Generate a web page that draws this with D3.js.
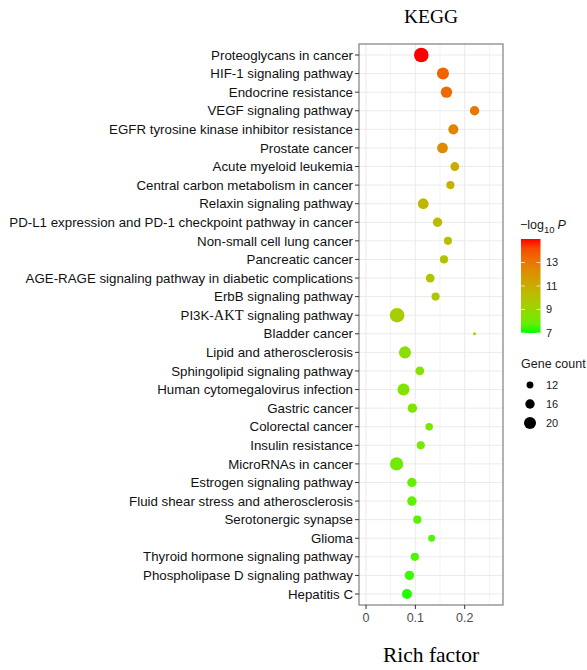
<!DOCTYPE html>
<html>
<head>
<meta charset="utf-8">
<script src="https://cdn.jsdelivr.net/npm/d3@7"></script>
<style>
  body { margin: 0; background: #fff; }
  text { font-family: "Liberation Sans", Arial, sans-serif; }
</style>
</head>
<body>
<svg id="svg" width="587" height="670"></svg>
<script>
const pathways = [
  "Proteoglycans in cancer", "HIF-1 signaling pathway", "Endocrine resistance",
  "VEGF signaling pathway", "EGFR tyrosine kinase inhibitor resistance", "Prostate cancer",
  "Acute myeloid leukemia", "Central carbon metabolism in cancer", "Relaxin signaling pathway",
  "PD-L1 expression and PD-1 checkpoint pathway in cancer", "Non-small cell lung cancer",
  "Pancreatic cancer", "AGE-RAGE signaling pathway in diabetic complications",
  "ErbB signaling pathway", "PI3K-AKT signaling pathway", "Bladder cancer",
  "Lipid and atherosclerosis", "Sphingolipid signaling pathway",
  "Human cytomegalovirus infection", "Gastric cancer", "Colorectal cancer",
  "Insulin resistance", "MicroRNAs in cancer", "Estrogen signaling pathway",
  "Fluid shear stress and atherosclerosis", "Serotonergic synapse", "Glioma",
  "Thyroid hormone signaling pathway", "Phospholipase D signaling pathway", "Hepatitis C"
];
const richFactor = [
  0.112, 0.156, 0.163, 0.220, 0.177, 0.155, 0.180, 0.171, 0.116, 0.145,
  0.166, 0.158, 0.130, 0.141, 0.063, 0.220, 0.079, 0.109, 0.076, 0.094,
  0.128, 0.111, 0.062, 0.093, 0.093, 0.104, 0.133, 0.099, 0.088, 0.083
];
const geneCount = [
  24, 20, 19, 16, 17, 18, 15, 14, 18, 16,
  14, 14, 15, 14, 24, 6, 20, 15, 20, 16,
  13, 14, 22, 16, 16, 14, 12, 14, 16, 17
];
const negLogP = [
  15.0, 13.6, 13.4, 13.0, 12.6, 12.3, 11.0, 10.8, 10.5, 10.3,
  10.2, 10.0, 9.9, 9.8, 9.5, 9.2, 8.6, 8.5, 8.4, 8.3,
  8.2, 8.1, 8.0, 7.8, 7.7, 7.6, 7.5, 7.4, 7.3, 7.1
];
const xTicks = [0, 0.1, 0.2];
const xMinor = [0.05, 0.15, 0.25];
const colorTicks = [7, 9, 11, 13];
const sizeTicks = [12, 16, 20];

const svg = d3.select("#svg");
const panel = { left: 359, right: 503, top: 44, bottom: 605 };

const x = d3.scaleLinear().domain([0, 0.2]).range([366, 464.7]);
const y = d3.scalePoint().domain(pathways).range([55, 594]);
const r = d3.scaleLinear().domain([6, 24]).range([1.5, 7.3]);
const color = d3.scaleLinear().domain([7, 15]).range(["#00ff00", "#ff0000"])
  .interpolate(d3.interpolateLab);

// grid
const g = svg.append("g");
g.selectAll(".gx").data(xMinor.concat(xTicks)).join("line")
  .attr("x1", d => x(d)).attr("x2", d => x(d))
  .attr("y1", panel.top).attr("y2", panel.bottom)
  .style("stroke", "#ebebeb")
  .style("stroke-width", d => xTicks.includes(d) ? 1 : 0.6);
g.selectAll(".gy").data(pathways).join("line")
  .attr("x1", panel.left).attr("x2", panel.right)
  .attr("y1", d => y(d)).attr("y2", d => y(d))
  .style("stroke", "#ebebeb");

// points
const data = pathways.map((p, i) => ({ p, rf: richFactor[i], n: geneCount[i], v: negLogP[i] }));
g.selectAll("circle").data(data).join("circle")
  .attr("cx", d => x(d.rf))
  .attr("cy", d => y(d.p))
  .attr("r", d => r(d.n))
  .style("fill", d => color(d.v));

// panel border
svg.append("rect")
  .attr("x", panel.left).attr("y", panel.top)
  .attr("width", panel.right - panel.left).attr("height", panel.bottom - panel.top)
  .style("fill", "none").style("stroke", "#7f7f7f").style("stroke-width", 1.2);

// y axis labels
const yl = svg.append("g");
yl.selectAll("line").data(pathways).join("line")
  .attr("x1", panel.left - 4).attr("x2", panel.left)
  .attr("y1", d => y(d)).attr("y2", d => y(d))
  .style("stroke", "#333");
const ylab = yl.selectAll("text").data(pathways).join("text")
  .attr("x", panel.left - 6)
  .attr("y", d => y(d))
  .attr("dy", "0.35em")
  .attr("text-anchor", "end")
  .style("font-size", "13.3px")
  .style("fill", "#111");
ylab.each(function (d) {
  const t = d3.select(this);
  if (d.startsWith("PI3K-AKT")) {
    t.append("tspan").text("PI3K-");
    t.append("tspan").style("font-family", "'Liberation Serif', 'Times New Roman', serif")
      .style("font-size", "14.5px").text("AKT");
    t.append("tspan").text(" signaling pathway");
  } else {
    t.text(d);
  }
});

// x axis
const xa = svg.append("g");
xa.selectAll("line").data(xTicks).join("line")
  .attr("x1", d => x(d)).attr("x2", d => x(d))
  .attr("y1", panel.bottom).attr("y2", panel.bottom + 4)
  .style("stroke", "#333");
xa.selectAll("text").data(xTicks).join("text")
  .attr("x", d => x(d)).attr("y", panel.bottom + 17)
  .attr("text-anchor", "middle")
  .style("font-size", "12.5px").style("fill", "#4d4d4d")
  .text(d => d3.format("~g")(d));

// titles
svg.append("text").attr("x", 431).attr("y", 23).attr("text-anchor", "middle")
  .style("font-family", "'Liberation Serif', 'Times New Roman', serif")
  .style("font-size", "19.5px").text("KEGG");
svg.append("text").attr("x", 431).attr("y", 662).attr("text-anchor", "middle")
  .style("font-family", "'Liberation Serif', 'Times New Roman', serif")
  .style("font-size", "21.5px").text("Rich factor");

// colour legend
const cb = { x: 521, w: 19.5, top: 239, bottom: 333 };
const cy = d3.scaleLinear().domain([7, 15]).range([cb.bottom, cb.top]);
const defs = svg.append("defs");
const grad = defs.append("linearGradient").attr("id", "cgrad")
  .attr("x1", 0).attr("y1", 1).attr("x2", 0).attr("y2", 0);
grad.selectAll("stop").data(d3.range(0, 1.0001, 0.1)).join("stop")
  .attr("offset", d => d)
  .attr("stop-color", d => color(7 + d * 8));
svg.append("rect").attr("x", cb.x).attr("y", cb.top)
  .attr("width", cb.w).attr("height", cb.bottom - cb.top)
  .style("fill", "url(#cgrad)");
const lg = svg.append("g");
lg.selectAll("line.l").data(colorTicks).join("line")
  .attr("x1", cb.x).attr("x2", cb.x + 4)
  .attr("y1", d => cy(d)).attr("y2", d => cy(d))
  .style("stroke", "#fff").style("stroke-opacity", 0.7);
lg.selectAll("line.r").data(colorTicks).join("line")
  .attr("x1", cb.x + cb.w - 4).attr("x2", cb.x + cb.w)
  .attr("y1", d => cy(d)).attr("y2", d => cy(d))
  .style("stroke", "#fff").style("stroke-opacity", 0.7);
lg.selectAll("text").data(colorTicks).join("text")
  .attr("x", 546).attr("y", d => cy(d)).attr("dy", "0.35em")
  .style("font-size", "11px").style("fill", "#1a1a1a")
  .text(d => d);

const lt = svg.append("text").attr("x", 520).attr("y", 229)
  .style("font-size", "12.5px").style("fill", "#1a1a1a");
lt.append("tspan").text("\u2212log");
lt.append("tspan").attr("dy", 4).style("font-size", "9.5px").text("10");
lt.append("tspan").attr("dy", -4).attr("dx", 3).style("font-style", "italic").text("P");

// size legend
svg.append("text").attr("x", 521).attr("y", 368)
  .style("font-size", "12.5px").style("fill", "#1a1a1a").text("Gene count");
const sy = d3.scalePoint().domain(sizeTicks).range([385, 423]);
const sg = svg.append("g");
sg.selectAll("circle").data(sizeTicks).join("circle")
  .attr("cx", 530).attr("cy", d => sy(d)).attr("r", d => r(d))
  .style("fill", "#000");
sg.selectAll("text").data(sizeTicks).join("text")
  .attr("x", 546).attr("y", d => sy(d)).attr("dy", "0.35em")
  .style("font-size", "11px").style("fill", "#1a1a1a")
  .text(d => d);
</script>
</body>
</html>
